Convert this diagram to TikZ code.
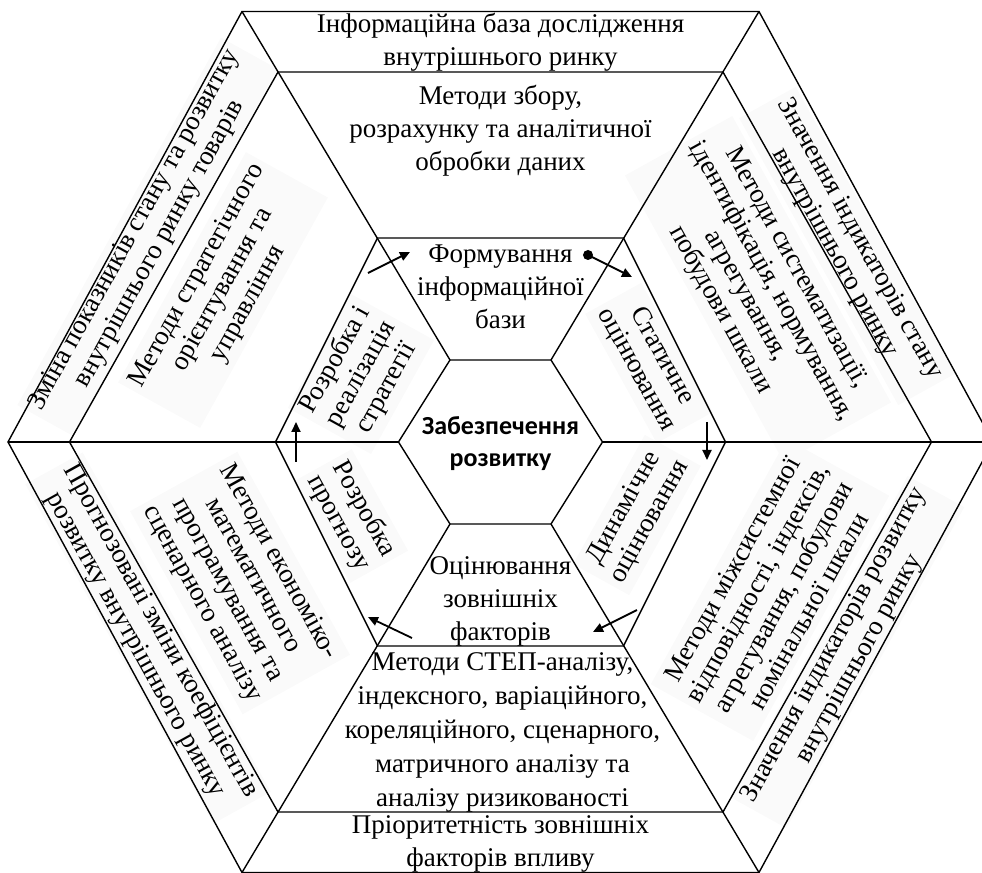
\documentclass[tikz,border=0pt]{standalone}
\usepackage{fontspec}
\setmainfont{Liberation Serif}
\newfontfamily\coresans{Carlito}
\usetikzlibrary{arrows.meta}
\newcommand{\hexUnit}{0.5pt}

\begin{document}
\begin{tikzpicture}[x=\hexUnit, y=\hexUnit, line width=0.7pt,
	txt/.style={align=center, inner sep=1pt, font=\fontsize{13.5}{16.5}\selectfont},
	slant/.style={txt, fill=black!2, inner sep=3pt, font=\fontsize{13.5}{14.5}\selectfont},
	flow/.style={line width=0.9pt, -{Triangle[length=5pt,width=4.5pt]}}]
	\clip (-500.5,-431) rectangle (481.5,442);
	
	% outer ring
	\node[txt] (infobase) at (0,399.5) {Інформаційна база дослідження\\внутрішнього ринку};
	\node[slant, rotate=-61] (statevals) at (346.5,196) {Значення індикаторів стану\\внутрішнього ринку};
	\node[slant, rotate=61] (devvals) at (346.5,-210) {Значення індикаторів розвитку\\внутрішнього ринку};
	\node[txt] (priority) at (0,-402) {Пріоритетність зовнішніх\\факторів впливу};
	\node[slant, rotate=-61] (forecast) at (-352.5,-196) {Прогнозовані зміни коефіцієнтів\\розвитку внутрішнього ринку};
	\node[slant, rotate=61] (change) at (-353,205) {Зміна показників стану та розвитку\\внутрішнього ринку товарів};
	
	% middle ring
	\node[txt] (collect) at (0,311.5) {Методи збору,\\розрахунку та аналітичної\\обробки даних};
	\node[slant, rotate=-61] (system) at (257.5,153) {Методи систематизації,\\ідентифікація, нормування,\\агрегування,\\побудови шкали};
	\node[slant, rotate=61] (intersys) at (269.5,-148) {Методи міжсистемної\\відповідності, індексів,\\агрегування, побудови\\номінальної шкали};
	\node[txt, font=\fontsize{13.5}{17}\selectfont] (step) at (2,-290) {Методи СТЕП-аналізу,\\індексного, варіаційного,\\кореляційного, сценарного,\\матричного аналізу та\\аналізу ризикованості};
	\node[slant, rotate=-61] (econ) at (-260.5,-141) {Методи економіко-\\математичного\\програмування та\\сценарного аналізу};
	\node[slant, rotate=61] (strat) at (-277.5,152) {Методи стратегічного\\орієнтування та\\управління};
	
	% inner ring
	\node[txt] (form) at (0,155) {Формування\\інформаційної\\бази};
	\node[slant, rotate=-61] (static) at (148.5,79) {Статичне\\оцінювання};
	\node[slant, rotate=61] (dynamic) at (136.5,-73) {Динамічне\\оцінювання};
	\node[txt] (external) at (0,-159) {Оцінювання\\зовнішніх\\факторів};
	\node[slant, rotate=-61] (prognosis) at (-149.5,-74) {Розробка\\прогнозу};
	\node[slant, rotate=61] (realize) at (-139.5,68) {Розробка і\\реалізація\\стратегії};
	
	\node[align=center, font=\coresans\bfseries\fontsize{13}{16}\selectfont] (core) at (0,-2) {Забезпечення\\розвитку};
	
	% hexagons and spokes
	\foreach \ring/\hw/\hh/\hr in {o/258.5/430.5/492.5, m/222.5/370/431, t/123/204/225, c/50.5/82/102}{
		\coordinate (\ring1) at (\hr,0);
		\coordinate (\ring2) at (\hw,\hh);
		\coordinate (\ring3) at (-\hw,\hh);
		\coordinate (\ring4) at (-\hr,0);
		\coordinate (\ring5) at (-\hw,-\hh);
		\coordinate (\ring6) at (\hw,-\hh);
		\draw (\ring1) -- (\ring2) -- (\ring3) -- (\ring4) -- (\ring5) -- (\ring6) -- cycle;
	}
	\foreach \i in {1,...,6}
		\draw (o\i) -- (c\i);
	
	% cycle arrows
	\path (-132.5,169) coordinate (s1) (-90.5,190) coordinate (e1)
		(87.5,187) coordinate (s2) (131.5,165) coordinate (e2)
		(206.5,20) coordinate (s3) (206.5,-18) coordinate (e3)
		(136.5,-168) coordinate (s4) (92.5,-190) coordinate (e4)
		(-88.5,-196) coordinate (s5) (-132.5,-175) coordinate (e5)
		(-204.5,-20) coordinate (s6) (-204.5,20) coordinate (e6);
	\foreach \i in {1,...,6}
		\draw[flow] (s\i) -- (e\i);
	\fill (s2) circle (2.5pt);
\end{tikzpicture}
\end{document}
